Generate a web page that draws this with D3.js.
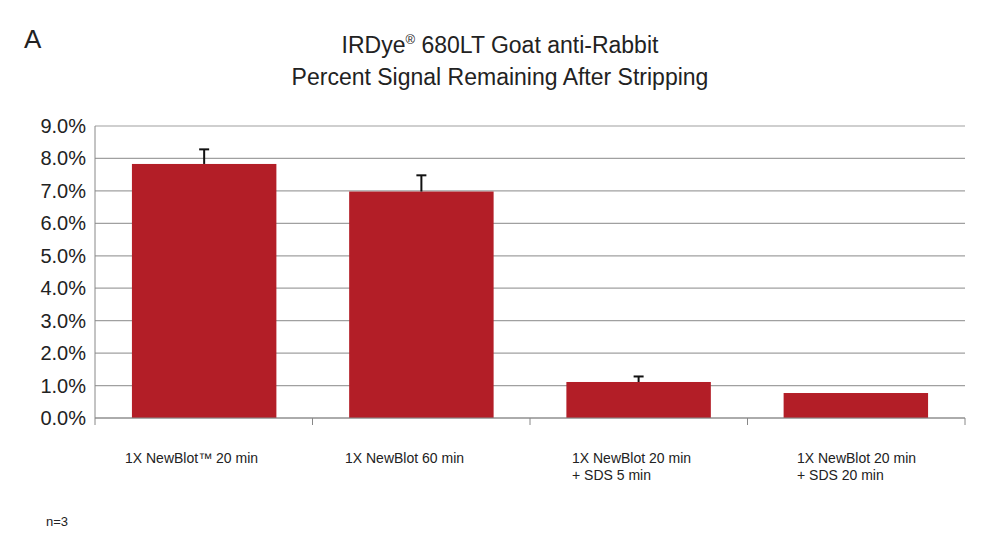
<!DOCTYPE html><html><head><meta charset="utf-8">
<script src="https://cdn.jsdelivr.net/npm/d3@7"></script>
<style>body{margin:0;background:#fff;font-family:"Liberation Sans",Arial,sans-serif}</style></head><body>
<svg id="c" width="993" height="549"></svg>
<script>
const categories=[["1X NewBlot™ 20 min"],["1X NewBlot 60 min"],["1X NewBlot 20 min","+ SDS 5 min"],["1X NewBlot 20 min","+ SDS 20 min"]];
const values=[7.83,6.98,1.11,0.77];
const errors=[0.45,0.5,0.17,0];
const yTicks=[0,1,2,3,4,5,6,7,8,9];
const svg=d3.select("#c");
const L=95,R=965,T=126,B=418;
const x=d3.scaleBand().domain(d3.range(4)).range([L,R]).paddingInner(0.335).paddingOuter(0.17);
const y=d3.scaleLinear().domain([0,9]).range([B,T]);
svg.append("g").selectAll("line").data(yTicks).join("line").attr("x1",L).attr("x2",R).attr("y1",d=>y(d)).attr("y2",d=>y(d)).attr("stroke","#a0a0a0").attr("stroke-width",1.2);
svg.append("line").attr("x1",L).attr("x2",L).attr("y1",T).attr("y2",B).attr("stroke","#888");
svg.append("g").selectAll("text").data(yTicks).join("text").attr("x",86).attr("y",d=>y(d)+7).attr("text-anchor","end").attr("font-size",20).attr("fill","#222").text(d=>d.toFixed(1)+"%");
svg.append("g").selectAll("rect").data(values).join("rect").attr("x",(d,i)=>x(i)).attr("width",x.bandwidth()).attr("y",d=>y(d)).attr("height",d=>B-y(d)).attr("fill","#b31e27");
const eb=svg.append("g").attr("stroke","#111").attr("stroke-width",2);
values.forEach((v,i)=>{if(!errors[i])return;const cx=x(i)+x.bandwidth()/2;
eb.append("line").attr("x1",cx).attr("x2",cx).attr("y1",y(v)).attr("y2",y(v+errors[i]));
eb.append("line").attr("x1",cx-5).attr("x2",cx+5).attr("y1",y(v+errors[i])).attr("y2",y(v+errors[i]));});
svg.append("line").attr("x1",L).attr("x2",R).attr("y1",B).attr("y2",B).attr("stroke","#888");
const step=(R-L)/4;
svg.append("g").selectAll("line").data(d3.range(5)).join("line").attr("x1",d=>L+d*step).attr("x2",d=>L+d*step).attr("y1",B).attr("y2",B+7).attr("stroke","#888");
const lx=[125,345,572,797];
categories.forEach((c,i)=>{c.forEach((s,j)=>svg.append("text").attr("x",lx[i]).attr("y",463+j*17).attr("font-size",14).attr("fill","#222").text(s));});
svg.append("text").attr("x",500).attr("y",53).attr("text-anchor","middle").attr("font-size",23).attr("fill","#222").html('IRDye<tspan font-size="13" dy="-9">®</tspan><tspan dy="9"> 680LT Goat anti-Rabbit</tspan>');
svg.append("text").attr("x",500).attr("y",85).attr("text-anchor","middle").attr("font-size",23).attr("fill","#222").text("Percent Signal Remaining After Stripping");
svg.append("text").attr("x",24).attr("y",48).attr("font-size",26).attr("fill","#222").text("A");
svg.append("text").attr("x",46).attr("y",526).attr("font-size",13).attr("fill","#222").text("n=3");
</script></body></html>
